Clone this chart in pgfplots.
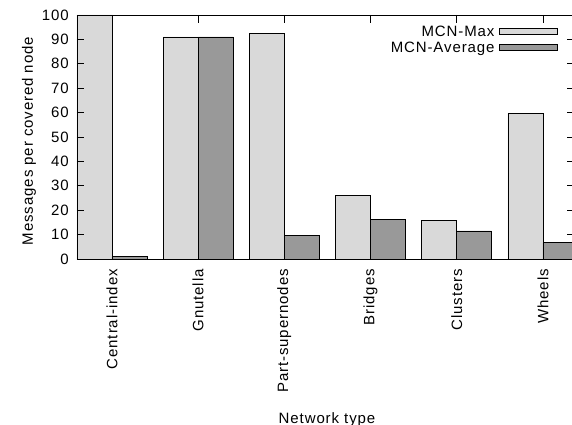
\documentclass[border=0pt]{standalone}
\usepackage{pgfplots}
\pgfplotsset{compat=1.18}
\usepackage{fontspec}
\setmainfont{Liberation Sans}[LetterSpace=6]
\definecolor{lightbar}{HTML}{D9D9D9}
\definecolor{darkbar}{HTML}{999999}
\begin{document}
\begin{tikzpicture}[font=\fontsize{15bp}{18bp}\selectfont]
\begin{axis}[
  at={(0,0)}, anchor=south west,
  scale only axis,
  width=497.8bp, height=244bp,
  xmin=-0.405, xmax=5.37,
  ymin=0, ymax=100,
  enlargelimits=false,
  ybar=0pt,
  bar width=0.406,
  axis line style={line width=0.8bp},
  tick style={line width=0.8bp, black},
  major tick length=7.5bp,
  tick align=inside,
  xtick={0,1,2,3,4,5},
  xticklabels={Central-index,Gnutella,Part-supernodes,Bridges,Clusters,Wheels},
  xticklabel style={rotate=90, anchor=east, inner sep=0pt, inner xsep=10bp},
  ytick={0,10,...,100},
  yticklabel style={inner xsep=8bp},
  /pgf/number format/assume math mode=true,
  axis on top,
  legend plot pos=right,
  legend cell align=right,
  legend style={at={(481bp,235bp)}, anchor=north east, draw=none, fill=none,
    inner sep=0pt, nodes={inner sep=1.5bp}, row sep=1bp},
]
\addplot[fill=lightbar, draw=black, line width=0.8bp, bar shift=-0.203,
  legend image code/.code={\path (0bp,0bp); \draw[fill=lightbar,draw=black,line width=0.8bp] (3bp,-3bp) rectangle (61bp,3bp);}]
  coordinates {(0,100) (1,91) (2,92.6) (3,26.2) (4,15.9) (5,59.5)};
\addlegendentry{MCN-Max}
\addplot[fill=darkbar, draw=black, line width=0.8bp, bar shift=0.203,
  legend image code/.code={\path (0bp,0bp); \draw[fill=darkbar,draw=black,line width=0.8bp] (3bp,-3bp) rectangle (61bp,3bp);}]
  coordinates {(0,1) (1,91) (2,9.5) (3,16.3) (4,11.5) (5,6.7)};
\addlegendentry{MCN-Average}
\end{axis}
\node[rotate=90, anchor=base] at (-44bp,118bp) {Messages per covered node};
\node[anchor=base] at (250bp,-164bp) {Network type};
\pgfresetboundingbox
\useasboundingbox (-77bp,-166bp) rectangle (495bp,259bp);
\end{tikzpicture}
\end{document}
